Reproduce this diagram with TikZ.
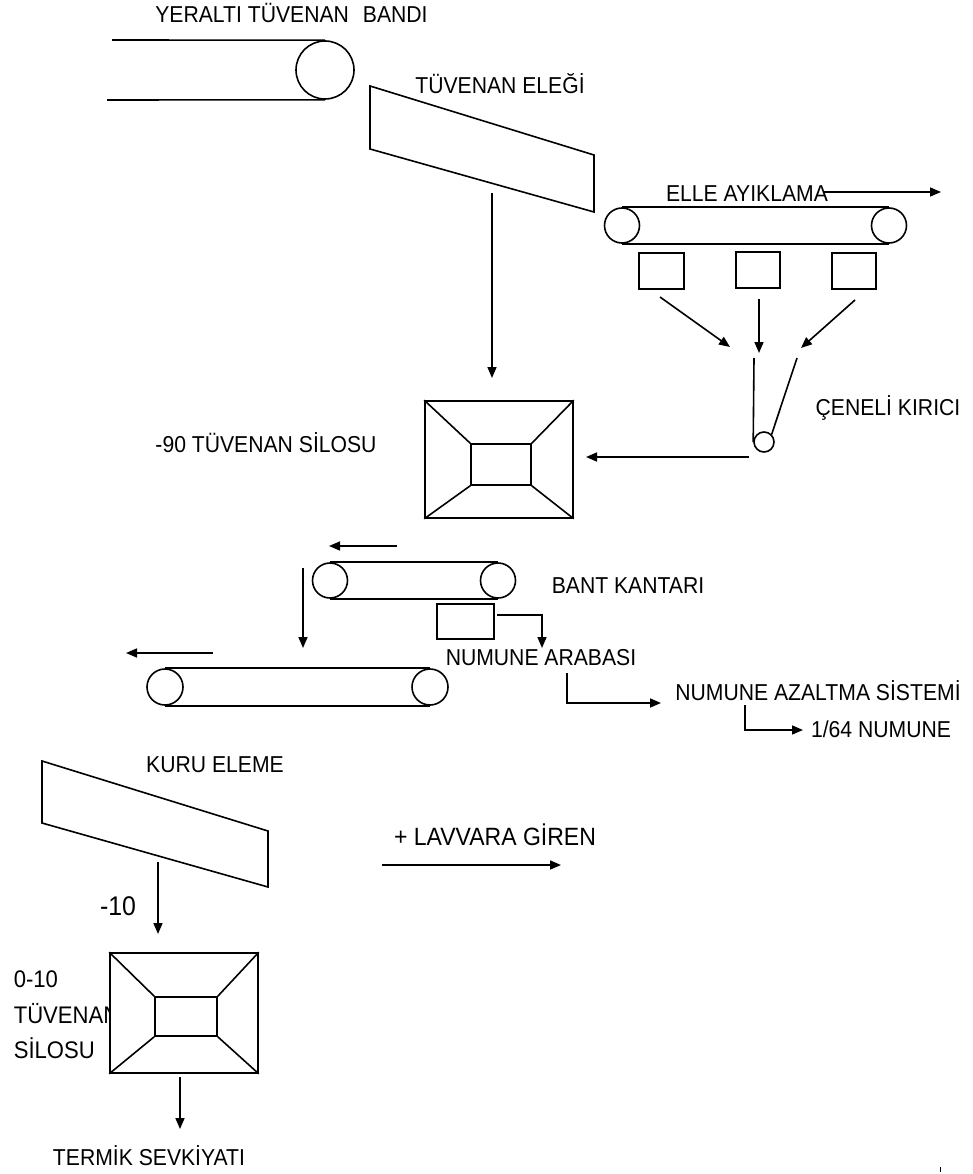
\documentclass[tikz,border=0pt]{standalone}
\usepackage{fontspec}
\setmainfont[FakeStretch=0.92]{Liberation Sans}
\usetikzlibrary{arrows.meta}
\begin{document}
\begin{tikzpicture}[x=1pt,y=-1pt,
  line width=1.6pt,
  lbl/.style={inner sep=0pt, anchor=base, font=\fontsize{23}{27}\selectfont},
  lblw/.style={inner sep=0pt, anchor=base west, font=\fontsize{24}{28}\selectfont},
  arr/.style={-{Triangle[length=11pt,width=9pt]}},
  roller/.style={circle, draw, inner sep=0pt, minimum size=#1},
  box/.style={draw, rectangle, inner sep=0pt},
  silo/.style={draw, rectangle, inner sep=0pt, fill=white},
]
\useasboundingbox (0,0) rectangle (973,1174);

% ---------- labels ----------
\node[lbl] (tYer) at (291.5,23) {YERALTI TÜVENAN\hspace{14pt}BANDI};
\node[lbl] (tEl1) at (500,94) {TÜVENAN ELEĞİ};
\node[lbl] (tEll) at (747,202) {ELLE AYIKLAMA};
\node[lbl] (tCen) at (888,415) {ÇENELİ KIRICI};
\node[lbl] (tSil) at (266,452) {-90 TÜVENAN SİLOSU};
\node[lbl] (tBan) at (628,593) {BANT KANTARI};
\node[lbl] (tNar) at (541,665) {NUMUNE ARABASI};
\node[lbl] (tNaz) at (818,700) {NUMUNE AZALTMA SİSTEMİ};
\node[lbl] (tN64) at (881,737) {1/64 NUMUNE};
\node[lbl] (tKur) at (215,772) {KURU ELEME};
\node[lbl, font=\fontsize{25}{29}\selectfont] (tLav) at (495,845) {+ LAVVARA GİREN};
\node[lbl, font=\fontsize{27}{31}\selectfont] (tM10) at (118,915) {-10};
\node[lbl] (tTer) at (149,1165) {TERMİK SEVKİYATI};
\node[lblw] (tS2a) at (13,987) {0-10};
\node[lblw] (tS2b) at (13,1023) {TÜVENAN};
\node[lblw] (tS2c) at (13,1058) {SİLOSU};

% ---------- underground belt ----------
\node[roller=58pt] (r0) at (325,70) {};
\coordinate (b0t) at (112,40);
\coordinate (b0b) at (107,100);
\draw (b0t) -- (r0.north);
\draw (b0b) -- (r0.south);

% ---------- screen 1 ----------
\coordinate (s1a) at (370,86);
\coordinate (s1b) at (370,149);
\coordinate (s1c) at (594,212);
\coordinate (s1d) at (594,155);
\draw (s1a) -- (s1b) -- (s1c) -- (s1d) -- cycle;
\coordinate (s1out) at (492,193);
\coordinate (si1in) at (492,378);
\draw[arr] (s1out) -- (si1in);

% ---------- hand picking belt ----------
\node[roller=35pt] (ra) at (622,225.5) {};
\node[roller=35pt] (rb) at (889,225.5) {};
\draw (ra.north) -- (rb.north);
\draw (ra.south) -- (rb.south);
\coordinate (ea1) at (823,192);
\coordinate (ea2) at (941,192);
\draw[arr] (ea1) -- (ea2);

\node[box, minimum width=45pt, minimum height=36pt] (bx1) at (661.5,271) {};
\node[box, minimum width=44pt, minimum height=36pt] (bx2) at (758,270) {};
\node[box, minimum width=44pt, minimum height=36pt] (bx3) at (854,271) {};
\coordinate (a1s) at (660,297);
\coordinate (a1e) at (730,347);
\coordinate (a2s) at (759,299);
\coordinate (a2e) at (759,353);
\coordinate (a3s) at (855,300);
\coordinate (a3e) at (801,348);
\draw[arr] (a1s) -- (a1e);
\draw[arr] (a2s) -- (a2e);
\draw[arr] (a3s) -- (a3e);

% ---------- jaw crusher ----------
\node[roller=20pt] (cr) at (764,442) {};
\coordinate (j1) at (754,358);
\coordinate (j2) at (797,358);
\draw (j1) -- (cr.west);
\draw (j2) -- (cr.north east);
\coordinate (crout) at (749,457);
\coordinate (si1r) at (586,457);
\draw[arr] (crout) -- (si1r);

% ---------- silo 1 ----------
\node[silo, minimum width=148pt, minimum height=117pt] (si1) at (499,459.5) {};
\node[box, minimum width=60pt, minimum height=41pt] (si1i) at (501,464.5) {};
\draw (si1.north west) -- (si1i.north west);
\draw (si1.north east) -- (si1i.north east);
\draw (si1.south west) -- (si1i.south west);
\draw (si1.south east) -- (si1i.south east);

% ---------- belt scale ----------
\coordinate (ka1) at (397,546);
\coordinate (ka2) at (329,546);
\draw[arr] (ka1) -- (ka2);
\node[roller=35pt] (rc) at (330,580.5) {};
\node[roller=35pt] (rd) at (498,580.5) {};
\draw (rc.north) -- (rd.north);
\draw (rc.south) -- (rd.south);
\coordinate (dv1) at (303,568);
\coordinate (dv2) at (303,648);
\draw[arr] (dv1) -- (dv2);
\node[box, minimum width=57pt, minimum height=35pt] (nb) at (465.5,621.5) {};
\coordinate (nb1) at (497,615);
\coordinate (nb2) at (542,648);
\draw[arr] (nb1) -| (nb2);

% ---------- lower belt ----------
\coordinate (la1) at (213,653);
\coordinate (la2) at (126,653);
\draw[arr] (la1) -- (la2);
\node[roller=36pt] (re) at (165,687) {};
\node[roller=36pt] (rf) at (430,687) {};
\draw (re.north) -- (rf.north);
\draw (re.south) -- (rf.south);

% ---------- sample reduction ----------
\coordinate (na1) at (567,673);
\coordinate (na2) at (661,703);
\draw[arr] (na1) |- (na2);
\coordinate (nz1) at (745,705);
\coordinate (nz2) at (803,730);
\draw[arr] (nz1) |- (nz2);

% ---------- dry screen ----------
\coordinate (s2a) at (42,761);
\coordinate (s2b) at (42,823);
\coordinate (s2c) at (268,887);
\coordinate (s2d) at (268,831);
\draw (s2a) -- (s2b) -- (s2c) -- (s2d) -- cycle;
\coordinate (s2out) at (158,862);
\coordinate (si2in) at (158,934);
\draw[arr] (s2out) -- (si2in);
\coordinate (lv1) at (382,865);
\coordinate (lv2) at (561,865);
\draw[arr] (lv1) -- (lv2);

% ---------- silo 2 ----------
\node[silo, minimum width=148pt, minimum height=120pt] (si2) at (184,1013) {};
\node[box, minimum width=62pt, minimum height=39pt] (si2i) at (186,1016.5) {};
\draw (si2.north west) -- (si2i.north west);
\draw (si2.north east) -- (si2i.north east);
\draw (si2.south west) -- (si2i.south west);
\draw (si2.south east) -- (si2i.south east);
\coordinate (si2out) at (180,1077);
\coordinate (ter) at (180,1129);
\draw[arr] (si2out) -- (ter);

% stray mark
\coordinate (m1) at (940,1167);
\coordinate (m2) at (940,1172);
\draw[line width=1pt] (m1) -- (m2);
\end{tikzpicture}
\end{document}
